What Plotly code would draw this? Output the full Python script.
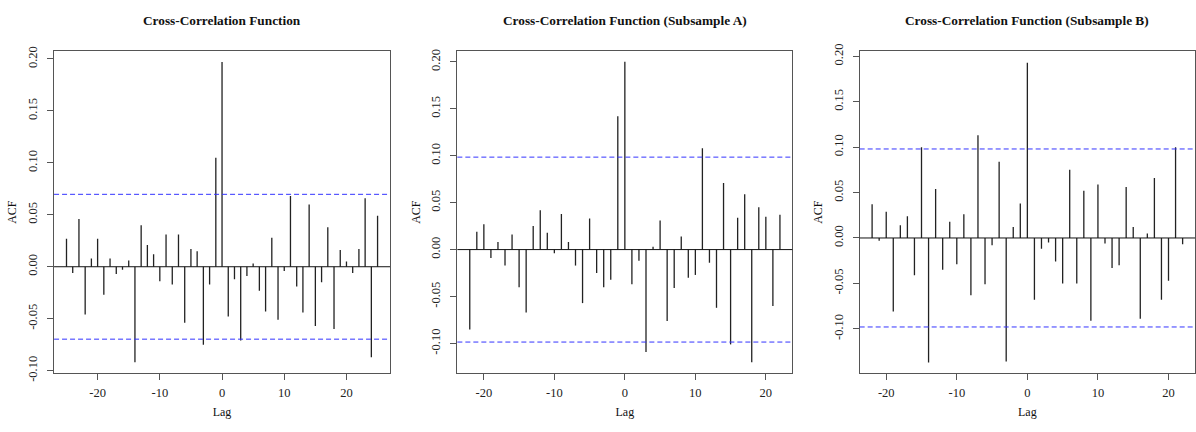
import plotly.graph_objects as go

# ---------------- data ----------------
lags_full = list(range(-25, 26))
acf_full = [0.027, -0.006, 0.046, -0.046, 0.008, 0.027, -0.027, 0.008, -0.007, -0.003,
            0.006, -0.092, 0.040, 0.021, 0.012, -0.014, 0.031, -0.017, 0.031, -0.054,
            0.017, 0.015, -0.075, -0.017, 0.105, 0.197, -0.048, -0.012, -0.071, -0.009,
            0.003, -0.023, -0.043, 0.028, -0.051, -0.004, 0.068, -0.019, -0.044, 0.060,
            -0.057, -0.015, 0.038, -0.060, 0.016, 0.005, -0.006, 0.017, 0.066, -0.087,
            0.049]
clim_full = 0.0697

lags_a = list(range(-22, 23))
acf_a = [-0.085, 0.019, 0.027, -0.009, 0.008, -0.017, 0.016, -0.040, -0.067, 0.025,
         0.042, 0.018, -0.004, 0.038, 0.008, -0.017, -0.057, 0.033, -0.025, -0.040,
         -0.032, 0.142, 0.200, -0.037, -0.012, -0.109, 0.003, 0.031, -0.076, -0.041,
         0.014, -0.030, -0.027, 0.108, -0.014, -0.062, 0.071, -0.101, 0.034, 0.059,
         -0.120, 0.045, 0.035, -0.060, 0.037]
clim_a = 0.0985

lags_b = list(range(-22, 23))
acf_b = [0.037, -0.003, 0.029, -0.081, 0.014, 0.024, -0.041, 0.100, -0.137, 0.054,
         -0.035, 0.018, -0.029, 0.026, -0.063, 0.113, -0.051, -0.008, 0.084, -0.136,
         0.012, 0.038, 0.193, -0.068, -0.012, -0.005, -0.026, -0.050, 0.075, -0.050,
         0.052, -0.091, 0.059, -0.006, -0.033, -0.030, 0.056, 0.012, -0.089, 0.005,
         0.066, -0.068, -0.047, 0.100, -0.007]
clim_b = 0.098

titles = ["Cross-Correlation Function",
          "Cross-Correlation Function (Subsample A)",
          "Cross-Correlation Function (Subsample B)"]
y_ticks = [-0.10, -0.05, 0.00, 0.05, 0.10, 0.15, 0.20]
x_ticks = [-20, -10, 0, 10, 20]

panels = [
    (lags_full, acf_full, clim_full, [-27.0, 27.0], [-0.1023, 0.2074], [0.0452, 0.3261]),
    (lags_a, acf_a, clim_a, [-23.76, 23.76], [-0.1315, 0.2113], [0.3824, 0.6625]),
    (lags_b, acf_b, clim_b, [-23.76, 23.76], [-0.1487, 0.2056], [0.7188, 0.9992]),
]

FONT = "Liberation Serif"
fig = go.Figure()
shapes = []
annotations = []
ydom = [0.1204, 0.8958]

for i, (lags, vals, clim, xr, yr, xdom) in enumerate(panels):
    n = i + 1
    xa = "x" if n == 1 else f"x{n}"
    ya = "y" if n == 1 else f"y{n}"
    xs, ys = [], []
    for l, v in zip(lags, vals):
        xs += [l, l, None]
        ys += [0, v, None]
    fig.add_trace(go.Scatter(x=xs, y=ys, mode="lines",
                             line=dict(color="#222222", width=1.3),
                             xaxis=xa, yaxis=ya, showlegend=False, hoverinfo="skip"))
    # zero line
    shapes.append(dict(type="line", xref=f"{xa} domain", yref=ya, x0=0, x1=1, y0=0, y1=0,
                       line=dict(color="#111111", width=1)))
    # confidence bounds
    for c in (clim, -clim):
        shapes.append(dict(type="line", xref=f"{xa} domain", yref=ya, x0=0, x1=1, y0=c, y1=c,
                           line=dict(color="#3333ff", width=1, dash="5px,3px")))
    axkey_x = "xaxis" if n == 1 else f"xaxis{n}"
    axkey_y = "yaxis" if n == 1 else f"yaxis{n}"
    fig.update_layout(**{
        axkey_x: dict(domain=xdom, range=xr, anchor=ya, tickvals=x_ticks,
                      ticktext=[str(t) for t in x_ticks],
                      showgrid=False, zeroline=False, showline=True, mirror=True,
                      linecolor="#555555", linewidth=1, ticks="outside", ticklen=6,
                      tickcolor="#555555", ticklabelstandoff=2,
                      tickfont=dict(family=FONT, size=12.5, color="#222222"),
                      title=dict(text="Lag", standoff=8,
                                 font=dict(family=FONT, size=12, color="#111111"))),
        axkey_y: dict(domain=ydom, range=yr, anchor=xa, tickvals=y_ticks,
                      ticktext=[f"{t:.2f}" for t in y_ticks], tickangle=-90,
                      showgrid=False, zeroline=False, showline=True, mirror=True,
                      linecolor="#555555", linewidth=1, ticks="outside", ticklen=6,
                      tickcolor="#555555", ticklabelstandoff=5,
                      tickfont=dict(family=FONT, size=12.5, color="#222222"),
                      title=dict(text="ACF", standoff=6,
                                 font=dict(family=FONT, size=12, color="#111111"))),
    })
    annotations.append(dict(text=f"<b>{titles[i]}</b>", xref="paper", yref="paper",
                            x=(xdom[0] + xdom[1]) / 2, y=1 - 13 / 432,
                            xanchor="center", yanchor="middle", showarrow=False,
                            font=dict(family=FONT, size=13.3, color="#111111")))

fig.update_layout(width=1196, height=432, margin=dict(l=0, r=0, t=0, b=0),
                  plot_bgcolor="white", paper_bgcolor="white",
                  shapes=shapes, annotations=annotations)
fig.write_html("out.html")
